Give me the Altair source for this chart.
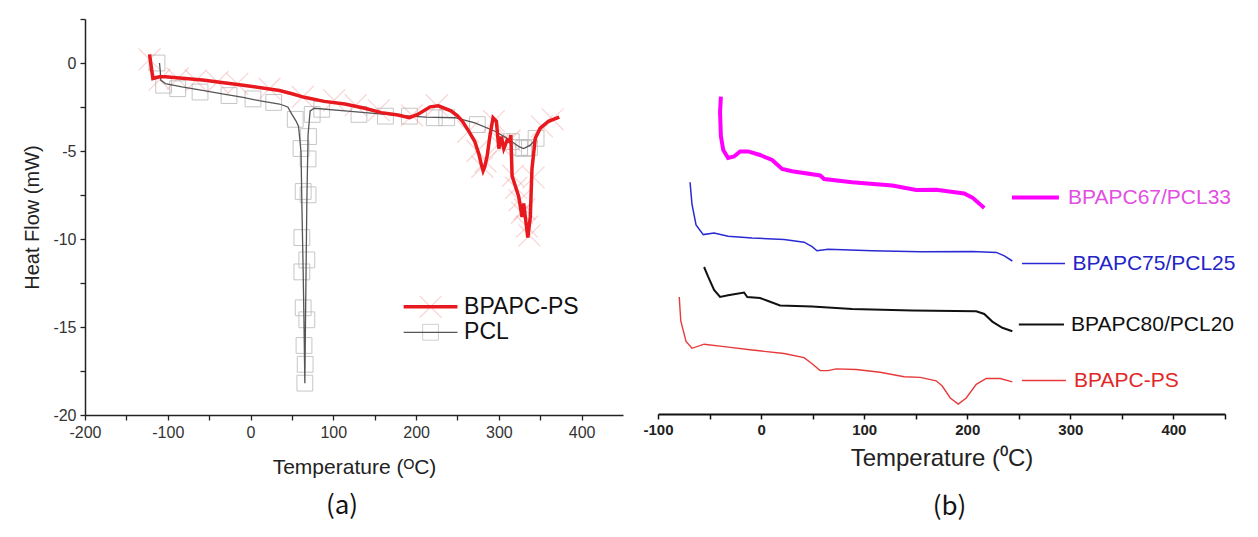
import altair as alt
import pandas as pd

# ---------------- Panel (a) data ----------------
ps_a_x = [-122, -118, -110, -103, -58, -9, 35, 50, 65, 89, 114, 138, 158, 178, 192, 202, 217, 227,
          242, 250, 256, 264, 271, 276, 279, 281, 283, 286, 289, 293, 297, 300, 303, 306, 310, 313,
          314.5, 316, 320, 324, 328, 330, 333, 335, 338, 340, 344, 350, 360, 373]
ps_a_y = [0.49, -0.88, -0.78, -0.78, -0.97, -1.26, -1.56, -1.75, -1.95, -2.18, -2.33, -2.57, -2.82,
          -2.96, -3.11, -2.92, -2.49, -2.43, -2.72, -3.0, -3.31, -3.9, -4.47, -5.2, -5.8, -6.13, -5.9,
          -5.25, -4.2, -3.11, -3.31, -4.86, -4.18, -4.86, -4.38, -4.47, -4.09, -6.42, -7.0, -7.59,
          -8.75, -7.98, -9.14, -9.92, -8.75, -6.03, -4.28, -3.7, -3.31, -3.07]

pcl_x = [-110, -109, -108.5, -103, -83, -58, -34, -9, 10, 35, 45, 50, 55, 58, 61, 62, 63.6, 64.6,
         65.6, 66.6, 68, 69.5, 72, 77, 114, 163, 212, 247, 271, 296, 310, 325, 330, 338, 345]
pcl_y = [0, -0.5, -0.97, -1.17, -1.36, -1.56, -1.75, -1.95, -2.14, -2.33, -2.5, -2.92, -3.3, -3.6,
         -5.06, -7.98, -11.87, -14.79, -18.19, -13.8, -7.98, -4.09, -2.72, -2.57, -2.72, -2.92,
         -3.07, -3.11, -3.4, -3.89, -4.28, -4.77, -4.86, -4.67, -4.28]

ps_mark_x = [-122, -110, -88, -66, -40, -16, 23, 63, 101, 127, 155, 195, 225, 263, 274, 280, 284,
             294, 300, 306, 313, 317, 321, 325, 328, 331, 334, 337, 342, 352, 365]
ps_mark_y = [0.2, -0.95, -0.89, -0.99, -1.08, -1.18, -1.46, -1.93, -2.12, -2.4, -2.69, -2.97, -2.41,
             -3.9, -5.0, -5.9, -5.6, -3.3, -4.6, -4.6, -4.4, -6.4, -7.1, -7.8, -8.5, -8.3, -9.3,
             -9.8, -6.5, -3.6, -3.2]

pcl_mark_x = [-113, -105, -88, -61, -26, 3, 28, 54, 61, 70, 69.5, 63.6, 69.5, 62, 68, 62, 63.6, 68,
              64.6, 66, 65.6, 74.5, 86, 131, 163, 192, 222, 237, 274, 315, 325, 330, 337, 345]
pcl_mark_y = [0, -1.26, -1.46, -1.65, -1.85, -2.04, -2.24, -3.2, -4.86, -4.18, -5.45, -7.3, -7.49,
              -9.92, -11.19, -11.87, -13.91, -14.59, -16.05, -17.12, -18.19, -2.92, -2.63, -2.92,
              -3.02, -3.02, -3.11, -3.11, -3.5, -4.47, -4.8, -4.86, -4.8, -4.28]

legend_a_names = ["BPAPC-PS", "PCL"]
legend_a_y = [-13.85, -15.3]
legend_a_x0 = 185
legend_a_x1 = 250
legend_a_tx = 258

# ---------------- Panel (b) data (curves offset vertically, a.u.) ----------------
b67_x = [-39.0, -39.8, -39.0, -36.7, -32.0, -26.2, -20.4, -12.6, -1.0, 10.7, 20.4, 30.1, 57.3, 61.2,
         88.3, 127.2, 150.5, 170.0, 197.0, 205.0, 216.5]
b67_y = [317.4, 302, 278, 264, 256, 257.5, 262.6, 262.6, 259, 254, 245, 242.7, 238.6, 235, 231.8,
         228.4, 224, 224.2, 220.5, 216.4, 206]

b75_x = [-68.9, -67.0, -63.1, -56.1, -45.6, -32.0, -8.7, 22.3, 41.7, 49.5, 54.2, 65.0, 107.8, 154.4,
         204.9, 228.2, 236.0, 243.7]
b75_y = [231.8, 209.5, 189, 179.4, 181.1, 177.7, 176, 174.6, 171.8, 167.4, 163.3, 164.7, 163.3, 162.3,
         162.6, 161.6, 158.2, 153]

b80_x = [-55.3, -51.5, -45.6, -39.8, -32.0, -26.2, -16.5, -13.4, -1.0, 6.8, 18.4, 49.5, 88.3, 146.6,
         208.7, 216.5, 224.3, 234.0, 243.7]
b80_y = [147, 137.6, 124, 117, 118.8, 119.8, 121.5, 117, 116, 113, 108.5, 107.5, 105, 103.4, 102.7,
         100, 92.4, 86.2, 82.8]

bps_x = [-79.4, -77.9, -72.8, -67.0, -55.3, -35.9, -8.7, 22.3, 41.7, 49.5, 57.3, 65.0, 72.8, 92.2,
         115.5, 138.8, 154.4, 169.9, 175.7, 183.5, 191.3, 199.0, 208.7, 218.4, 232.0, 243.7]
bps_y = [117, 93, 72.5, 65.7, 69.8, 67.4, 64, 60.5, 56.4, 50.3, 43.4, 43.4, 45.1, 44.5, 41.7, 37.3,
         36.6, 33.2, 28, 16, 10, 16, 29.7, 35.5, 35.5, 32.1]

label_b_names = ["BPAPC67/PCL33", "BPAPC75/PCL25", "BPAPC80/PCL20", "BPAPC-PS"]
label_b_x0 = [243.3, 253.0, 250.0, 253.0]
label_b_x1 = [288.9, 294.8, 293.8, 295.7]
label_b_y = [216.4, 150.5, 89.5, 33.5]
label_b_tx = [297.7, 302.0, 300.6, 303.6]

FONT = "Liberation Sans"

# ---------------- Panel (a) ----------------
xa = alt.Scale(domain=[-200, 450], nice=False, zero=False)
ya = alt.Scale(domain=[-20, 2.5], nice=False, zero=False)

xa_axis = alt.Axis(
    title="Temperature (ᴼC)", values=list(range(-200, 401, 50)),
    labelExpr="datum.value % 100 === 0 ? '' + datum.value : ''",
    tickSize=5, labelFlush=False, labelOverlap=False,
    grid=False, domainColor="#222", domainWidth=1.5, tickColor="#222", tickWidth=1.3,
    labelFont=FONT, labelFontSize=16, labelColor="#333", labelPadding=4,
    titleFont=FONT, titleFontSize=21, titleFontWeight="normal", titleColor="#222", titlePadding=16,
)
ya_axis = alt.Axis(
    title="Heat Flow (mW)", values=[-20 + 2.5 * i for i in range(10)],
    labelExpr="datum.value % 5 === 0 ? '' + datum.value : ''",
    tickSize=5, labelFlush=False, labelOverlap=False,
    grid=False, domainColor="#222", domainWidth=1.5, tickColor="#222", tickWidth=1.3,
    labelFont=FONT, labelFontSize=16, labelColor="#333", labelPadding=4,
    titleFont=FONT, titleFontSize=20, titleFontWeight="normal", titleColor="#222", titlePadding=10,
)


def XA(f):
    return alt.X(f, scale=xa, axis=xa_axis, title="Temperature (ᴼC)")


def YA(f):
    return alt.Y(f, scale=ya, axis=ya_axis, title="Heat Flow (mW)")


ps_df = pd.DataFrame({"t": ps_a_x, "h": ps_a_y, "i": list(range(len(ps_a_x)))})
pcl_df = pd.DataFrame({"t": pcl_x, "h": pcl_y, "i": list(range(len(pcl_x)))})
psm_df = pd.DataFrame({"t": ps_mark_x, "h": ps_mark_y})
pclm_df = pd.DataFrame({"t": pcl_mark_x, "h": pcl_mark_y})

XPATH = "M-1,-1L1,1M-1,1L1,-1"

pcl_marks = alt.Chart(pclm_df).mark_point(shape="square", filled=False, size=250, color="#bdbdbd",
                                            strokeWidth=1, opacity=0.85).encode(x=XA("t:Q"), y=YA("h:Q"))
ps_marks = alt.Chart(psm_df).mark_point(shape=XPATH, filled=False, size=480, color="#ee8888",
                                          strokeWidth=1.2, opacity=0.35).encode(x=XA("t:Q"), y=YA("h:Q"))
pcl_line = alt.Chart(pcl_df).mark_line(color="#555555", strokeWidth=1.3).encode(
    x=XA("t:Q"), y=YA("h:Q"), order="i:Q")
ps_line = alt.Chart(ps_df).mark_line(color="#e8191e", strokeWidth=3.5).encode(
    x=XA("t:Q"), y=YA("h:Q"), order="i:Q")

leg_ps = pd.DataFrame({"name": [legend_a_names[0]], "y": [legend_a_y[0]], "x0": [legend_a_x0],
                       "x1": [legend_a_x1], "xm": [(legend_a_x0 + legend_a_x1) / 2]})
leg_pcl = pd.DataFrame({"name": [legend_a_names[1]], "y": [legend_a_y[1]], "x0": [legend_a_x0],
                        "x1": [legend_a_x1], "xm": [(legend_a_x0 + legend_a_x1) / 2]})
leg_txt = pd.DataFrame({"name": legend_a_names, "y": legend_a_y, "tx": [legend_a_tx] * 2})

leg_layers = [
    alt.Chart(leg_ps).mark_point(shape=XPATH, filled=False, size=480, color="#ee8888", strokeWidth=1.2,
                                 opacity=0.35).encode(x=XA("xm:Q"), y=YA("y:Q")),
    alt.Chart(leg_ps).mark_rule(color="#e8191e", strokeWidth=3.5).encode(
        x=XA("x0:Q"), x2="x1:Q", y=YA("y:Q")),
    alt.Chart(leg_pcl).mark_point(shape="square", filled=False, size=250, color="#bdbdbd",
                                  strokeWidth=1).encode(x=XA("xm:Q"), y=YA("y:Q")),
    alt.Chart(leg_pcl).mark_rule(color="#555555", strokeWidth=1.3).encode(
        x=XA("x0:Q"), x2="x1:Q", y=YA("y:Q")),
    alt.Chart(leg_txt).mark_text(align="left", baseline="middle", font=FONT, fontSize=23,
                                 color="#111").encode(x=XA("tx:Q"), y=YA("y:Q"), text="name:N"),
]

panel_a = alt.layer(pcl_marks, ps_marks, pcl_line, ps_line, *leg_layers).properties(
    width=538, height=396,
    title=alt.TitleParams("(a)", orient="bottom", font="Noto Sans CJK KR", fontSize=26,
                          fontWeight="normal", color="#111", offset=16, dx=-12),
)

# ---------------- Panel (b) ----------------
xb = alt.Scale(domain=[-100, 450], nice=False, zero=False)
yb = alt.Scale(domain=[0, 395], nice=False, zero=False)
xb_axis = alt.Axis(
    title="Temperature (⁰C)", values=list(range(-100, 451, 50)),
    labelExpr="datum.value % 100 === 0 ? '' + datum.value : ''",
    tickSize=5, labelFlush=False, labelOverlap=False,
    grid=False, domainColor="#111", domainWidth=2, tickColor="#111", tickWidth=1.5,
    labelFont=FONT, labelFontSize=15, labelFontWeight="bold", labelColor="#222", labelPadding=3,
    titleFont=FONT, titleFontSize=24, titleFontWeight="normal", titleColor="#222", titlePadding=9,
)


def XB(f):
    return alt.X(f, scale=xb, axis=xb_axis, title="Temperature (⁰C)")


def YB(f):
    return alt.Y(f, scale=yb, axis=None)


def series_b(xs, ys, idx, color, width, text_color):
    df = pd.DataFrame({"t": xs, "v": ys, "i": list(range(len(xs)))})
    lab = pd.DataFrame({"name": [label_b_names[idx]], "x0": [label_b_x0[idx]], "x1": [label_b_x1[idx]],
                        "y": [label_b_y[idx]], "tx": [label_b_tx[idx]]})
    line = alt.Chart(df).mark_line(color=color, strokeWidth=width).encode(
        x=XB("t:Q"), y=YB("v:Q"), order="i:Q")
    rule = alt.Chart(lab).mark_rule(color=color, strokeWidth=width).encode(
        x=XB("x0:Q"), x2="x1:Q", y=YB("y:Q"))
    txt = alt.Chart(lab).mark_text(align="left", baseline="middle", font=FONT, fontSize=21,
                                   color=text_color).encode(x=XB("tx:Q"), y=YB("y:Q"), text="name:N")
    return [line, rule, txt]


layers_b = (series_b(b67_x, b67_y, 0, "#ff00ff", 4, "#e34ee3")
            + series_b(b75_x, b75_y, 1, "#2a2ad4", 1.5, "#2424c8")
            + series_b(b80_x, b80_y, 2, "#111111", 2, "#111111")
            + series_b(bps_x, bps_y, 3, "#e63a3a", 1.4, "#e02828"))

panel_b = alt.layer(*layers_b).properties(
    width=567, height=395,
    title=alt.TitleParams("(b)", orient="bottom", font="Noto Sans CJK KR", fontSize=26,
                          fontWeight="normal", color="#111", offset=24, dx=8),
)

chart = alt.hconcat(panel_a, panel_b, spacing=19).properties(
    padding={"left": 14, "top": 3, "right": 5, "bottom": 5}
).configure_view(stroke=None)

chart.save("out.html", embed_options={"renderer": "svg", "actions": False})
